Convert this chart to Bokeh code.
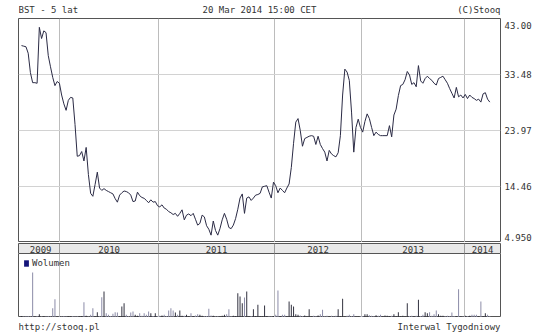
from bokeh.plotting import figure
from bokeh.layouts import column
from bokeh.models import Range1d, FixedTicker, Legend, LegendItem, ColumnDataSource
from bokeh.core.properties import value
from bokeh.embed import file_html
from bokeh.resources import INLINE

# ---- data (weekly bars) ----
price = [
    38.4, 38.3, 38.2, 37.1, 33.8, 32.1, 32.1, 32.0, 41.5, 39.6,
    40.9, 40.6, 36.7, 34.8, 33.0, 31.6, 32.3, 32.0, 30.0, 28.5,
    27.4, 29.1, 29.6, 29.5, 25.0, 19.6, 19.7, 20.4, 18.8, 21.1,
    16.5, 13.3, 12.8, 14.8, 16.9, 14.2, 13.8, 14.1, 13.8, 13.6,
    13.4, 13.2, 12.4, 11.8, 13.0, 13.4, 13.7, 13.6, 13.4, 13.0,
    11.9, 12.0, 13.5, 12.9, 12.6, 12.45, 12.1, 11.7, 12.2, 11.8,
    11.9, 11.2, 11.0, 11.35, 10.8, 10.6, 10.2, 10.0, 9.7, 9.9,
    9.4, 9.9, 10.5, 8.8, 9.6, 9.8, 9.5, 9.9, 8.9, 7.9,
    8.2, 9.6, 9.3, 7.8, 7.2, 6.2, 8.6, 7.0, 6.2, 7.3,
    8.8, 9.9, 8.9, 7.5, 7.3, 7.9, 9.0, 10.6, 12.5, 13.2,
    9.9, 12.5, 12.7, 12.1, 12.5, 13.0, 13.1, 13.3, 14.4, 14.5,
    14.6, 13.5, 12.5, 15.2, 14.6, 13.4, 14.2, 13.8, 13.4, 14.2,
    14.9, 17.7, 21.8, 25.4, 26.0, 24.0, 21.3, 22.6, 22.8, 23.0,
    23.1, 23.0, 21.6, 23.0, 21.6, 20.9, 20.3, 18.8, 20.6, 20.0,
    19.7, 19.5, 20.2, 23.1, 30.0, 34.4, 33.9, 32.5, 27.1, 20.3,
    24.5, 25.9, 24.5, 23.7, 25.5, 26.8, 26.0, 24.5, 23.1, 23.7,
    23.3, 23.1, 23.1, 23.1, 23.1, 24.8, 22.9, 26.6, 27.6, 29.9,
    31.6, 31.8, 32.6, 34.0, 33.4, 31.8, 32.1, 31.4, 35.0, 32.4,
    32.0, 32.8, 33.2, 32.8, 32.5, 32.0, 31.7, 32.8, 33.0, 33.2,
    32.6, 32.0, 31.1, 30.3, 29.5, 31.3, 29.7, 30.0, 29.5, 30.1,
    29.4, 30.0, 29.6, 29.4, 29.1, 29.3, 28.8, 30.2, 30.4, 29.3,
    28.8,
]
volume = [  # thousands of shares
    1.5, 1.0, 1.2, 1.5, 1.0, 45.0, 1.0, 1.5, 3.3, 1.0,
    1.2, 1.0, 1.5, 1.0, 9.3, 18.3, 1.0, 1.2, 1.0, 1.5,
    1.0, 1.2, 1.0, 1.5, 1.0, 1.2, 1.0, 1.5, 15.3, 1.7,
    1.0, 2.7, 9.3, 1.5, 5.3, 1.2, 20.3, 26.0, 4.3, 2.7,
    1.5, 3.7, 5.3, 5.0, 1.5, 11.0, 14.3, 2.7, 1.2, 5.0,
    6.0, 2.7, 1.7, 4.3, 1.7, 4.3, 2.7, 6.0, 4.3, 1.5,
    4.3, 1.2, 1.7, 2.0, 2.7, 1.2, 7.0, 9.3, 7.0, 5.0,
    2.7, 7.0, 1.7, 1.7, 2.7, 1.2, 4.3, 1.5, 2.0, 3.3,
    2.7, 1.7, 1.2, 1.5, 8.7, 2.0, 1.7, 1.0, 1.2, 1.0,
    1.7, 2.7, 3.3, 8.3, 1.2, 1.7, 1.5, 24.3, 21.0, 14.3,
    20.0, 26.0, 1.5, 1.5, 8.3, 1.5, 12.7, 1.5, 1.2, 12.0,
    1.5, 1.2, 1.0, 1.5, 2.7, 27.0, 1.5, 2.7, 2.7, 1.5,
    16.0, 12.7, 11.0, 3.3, 2.7, 2.0, 1.2, 2.0, 1.0, 8.3,
    1.0, 1.7, 1.2, 2.0, 3.3, 7.7, 1.2, 1.7, 1.0, 1.7,
    1.0, 1.7, 8.3, 1.2, 18.7, 1.0, 1.7, 2.7, 1.2, 3.3,
    1.0, 1.0, 1.2, 1.5, 3.3, 3.3, 2.3, 1.7, 1.2, 2.3,
    1.7, 2.7, 1.2, 2.0, 1.7, 1.2, 1.7, 3.3, 1.2, 5.3,
    1.2, 1.7, 1.2, 14.3, 1.5, 1.7, 1.2, 1.7, 17.7, 1.5,
    2.7, 5.3, 4.3, 5.3, 1.7, 3.3, 7.0, 3.3, 1.7, 1.7,
    1.2, 1.7, 1.2, 5.0, 1.5, 1.2, 28.3, 1.0, 1.0, 1.7,
    1.2, 1.7, 2.7, 2.7, 2.7, 1.2, 16.0, 1.5, 4.3, 2.7,
    1.2,
]
year_labels = ["2009", "2010", "2011", "2012", "2013", "2014"]
year_bounds = [17.2, 61.4, 113.5, 152.5, 198.7]   # bar index where each new year starts
price_ticks = [4.95, 14.46, 23.97, 33.48, 43.00]
price_tick_labels = ["4.950", "14.46", "23.97", "33.48", "43.00"]
header = ["BST - 5 lat", "20 Mar 2014 15:00 CET", "(C)Stooq"]
footer = ["http://stooq.pl", "Interwal Tygodniowy"]

# ---- styling ----
FONT = "DejaVu Sans Mono"
FS = "9px"
TXT = "#333333"
FRAME = "#555555"
X0, X1 = -1.345, 214.8
Y0, Y1 = price_ticks[0], price_ticks[-1]
PRICE_H = 224
u = (Y1 - Y0) / PRICE_H  # price per pixel

idx = list(range(len(price)))
x_range = Range1d(X0, X1)

common = dict(width=540, x_range=x_range, output_backend="svg", toolbar_location=None,
              min_border_left=18, min_border_right=40, x_axis_location=None,
              min_border_top=0, min_border_bottom=0)


def text_strip(height, texts, xs, aligns, y):
    f = figure(height=height, y_range=Range1d(0, 1), y_axis_location=None, **common)
    f.outline_line_color = None
    f.xgrid.visible = False
    f.ygrid.visible = False
    f.text(x=xs, y=[y] * len(xs), text=texts, text_align=aligns, text_baseline="middle",
           text_font=value(FONT), text_font_size=FS, text_color=TXT)
    return f


# ---- header ----
p0 = text_strip(18, header, [X0, (X0 + X1) / 2, X1], ["left", "center", "right"], 0.45)

# ---- price panel ----
p1 = figure(height=PRICE_H, y_range=Range1d(Y0, Y1), y_axis_location="right", **common)
p1.outline_line_color = FRAME
p1.line(idx, price, line_color="#2b2b45", line_width=1)

label_pos = [Y0 + 5 * u] + price_ticks[1:-1] + [Y1 - 7 * u]
ax = p1.yaxis[0]
ax.ticker = FixedTicker(ticks=label_pos)
ax.major_label_overrides = {pos: lab for pos, lab in zip(label_pos, price_tick_labels)}
ax.axis_line_color = None
ax.major_tick_line_color = None
ax.minor_tick_line_color = None
ax.major_tick_out = 0
ax.major_tick_in = 0
ax.major_label_standoff = 4
ax.major_label_text_font = FONT
ax.major_label_text_font_size = FS
ax.major_label_text_color = TXT
p1.ygrid.ticker = FixedTicker(ticks=price_ticks)
p1.ygrid.grid_line_color = "#d2d2d2"
p1.xgrid.ticker = FixedTicker(ticks=year_bounds)
p1.xgrid.grid_line_color = "#bcbcbc"

# ---- year band ----
p2 = figure(height=11, y_range=Range1d(0, 1), y_axis_location=None,
            background_fill_color="#e9e9e9", **common)
p2.outline_line_color = FRAME
p2.ygrid.visible = False
p2.xgrid.ticker = FixedTicker(ticks=year_bounds)
p2.xgrid.grid_line_color = "#9a9a9a"
edges = [0] + year_bounds + [X1]
mids = [(a + b) / 2 for a, b in zip(edges[:-1], edges[1:])]
p2.text(x=mids, y=[0.5] * len(mids), text=year_labels, text_align="center", text_baseline="middle",
        text_font=value(FONT), text_font_size=FS, text_color=TXT)

# ---- volume panel ----
p3 = figure(height=64, y_range=Range1d(0, 64), y_axis_location=None, **common)
p3.outline_line_color = FRAME
p3.ygrid.visible = False
p3.xgrid.ticker = FixedTicker(ticks=year_bounds)
p3.xgrid.grid_line_color = "#bcbcbc"
colors = ["#333340" if i == 0 or price[i] >= price[i - 1] else "#8c8ca8" for i in idx]
src = ColumnDataSource(dict(x=idx, top=volume, color=colors))
p3.vbar(x="x", top="top", bottom=0, width=0.45, fill_color="color", line_color=None, source=src)
leg_r = p3.vbar(x="x", top="top", bottom=0, width=0.45, fill_color="#14147a", line_color=None,
                source=src, visible=False)
legend = Legend(items=[LegendItem(label="Wolumen", renderers=[leg_r], index=0)], location="top_left",
                background_fill_alpha=0, border_line_alpha=0, margin=0, padding=5,
                glyph_width=6, glyph_height=8, label_height=8, label_standoff=3,
                inactive_fill_alpha=0, click_policy="none",
                label_text_font=FONT, label_text_font_size=FS, label_text_color=TXT)
p3.add_layout(legend)

# ---- footer ----
p4 = text_strip(17, footer, [X0, X1], ["left", "right"], 0.45)

layout = column(p0, p1, p2, p3, p4)
open("out.html", "w").write(file_html(layout, INLINE))
